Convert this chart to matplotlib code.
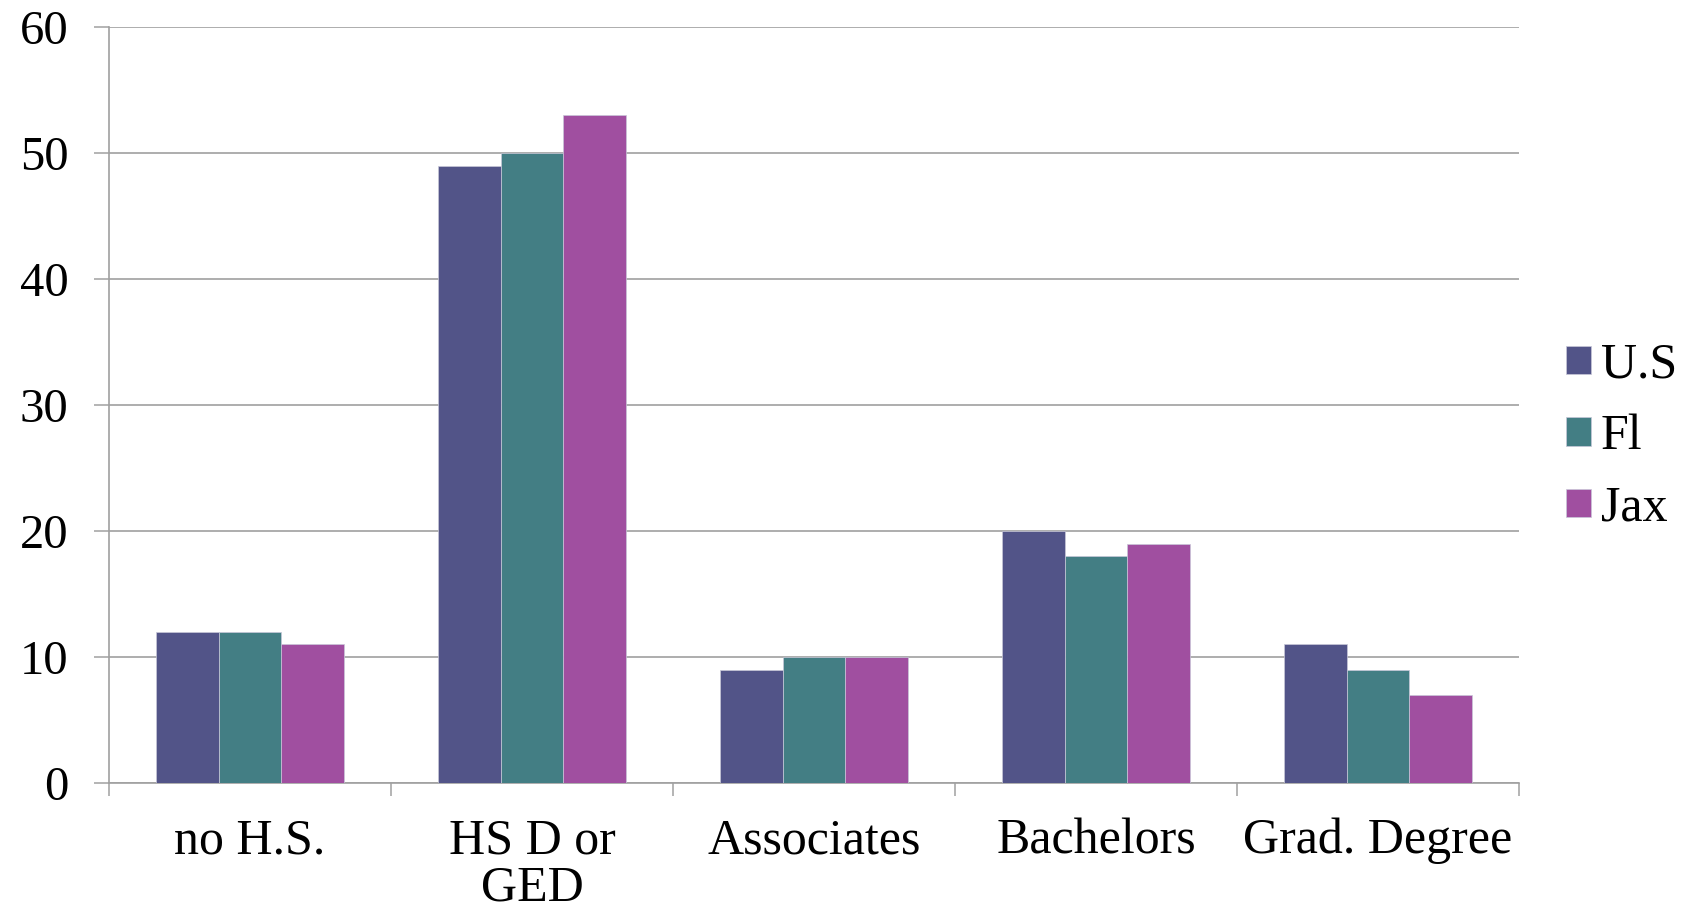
import numpy as np
import matplotlib
matplotlib.use("Agg")
import matplotlib.pyplot as plt

# education levels (percent of population)
categories = ["no H.S.", "HS D or\nGED", "Associates", "Bachelors", "Grad. Degree"]
us = [12, 49, 9, 20, 11]
fl = [12, 50, 10, 18, 9]
jax = [11, 53, 10, 19, 7]
series_names = ["U.S", "Fl", "Jax"]
colors = ["#525488", "#437E84", "#A04FA0"]
yticks = [0, 10, 20, 30, 40, 50, 60]

plt.rcParams['font.family'] = ['Liberation Serif', 'DejaVu Serif']
grid_c = "#A0A0A0"

fig = plt.figure(figsize=(16.98, 9.14), dpi=100)
ax = fig.add_axes([0.0642, 0.1433, 0.8304, 0.8272])

x = np.arange(len(categories))
w = 1 / 4.5  # gap width 150%
for i, (vals, name, c) in enumerate(zip([us, fl, jax], series_names, colors)):
    ax.bar(x + (i - 1) * w, vals, width=w, color=c, label=name,
           edgecolor="#C8C8D8", linewidth=0.5, zorder=3)

ax.set_xlim(-0.5, len(categories) - 0.5)
ax.set_ylim(0, 60)
ax.set_yticks(yticks)
ax.set_yticklabels([str(t) for t in yticks], fontsize=35)
ax.tick_params(axis='y', length=11, width=1.1, color=grid_c, pad=18)
ax.yaxis.grid(True, color=grid_c, linewidth=1.2, zorder=0)

# boundary ticks between categories, labels centred on groups
ax.set_xticks(np.arange(-0.5, len(categories)), minor=False)
ax.set_xticklabels([])
ax.set_xticks(x, minor=True)
ax.set_xticklabels(categories, minor=True, fontsize=36, linespacing=1.02)
ax.tick_params(axis='x', which='major', length=9.5, width=1.1, color=grid_c)
ax.tick_params(axis='x', which='minor', length=0, pad=25)

for s in ['top', 'right']:
    ax.spines[s].set_visible(False)
for s in ['left', 'bottom']:
    ax.spines[s].set_color(grid_c)
    ax.spines[s].set_linewidth(1.2)

ax.legend(loc='center left', bbox_to_anchor=(0.9105, 0.522), bbox_transform=fig.transFigure,
          frameon=False, fontsize=36, handlelength=0.5, handleheight=0.5,
          handletextpad=0.2, labelspacing=0.5, borderaxespad=0)

fig.savefig("out.png", dpi=100, facecolor="white")
